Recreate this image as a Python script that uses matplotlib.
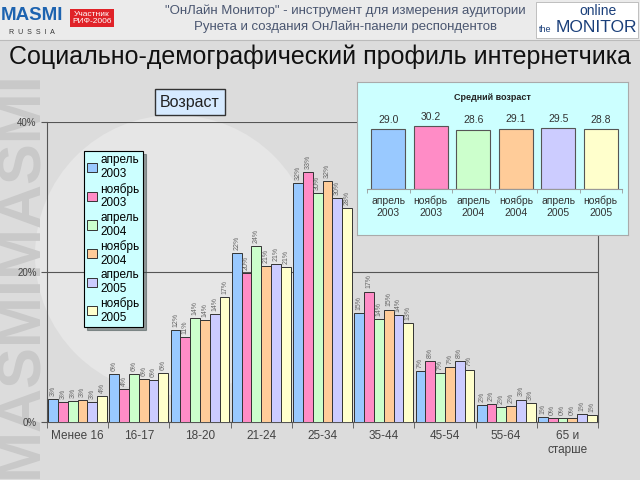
import matplotlib
matplotlib.use("Agg")
import matplotlib.pyplot as plt
from matplotlib.patches import Rectangle, Circle
import numpy as np

plt.rcParams['font.family'] = ['Liberation Sans', 'DejaVu Sans']

# data
groups = ['Менее 16', '16-17', '18-20', '21-24', '25-34', '35-44', '45-54', '55-64', '65 и\nстарше']
waves = ['апрель\n2003', 'ноябрь\n2003', 'апрель\n2004', 'ноябрь\n2004', 'апрель\n2005', 'ноябрь\n2005']
apr03 = [3.1, 6.4, 12.3, 22.5, 31.9, 14.6, 6.8, 2.3, 0.7]
nov03 = [2.7, 4.4, 11.3, 19.9, 33.3, 17.4, 8.1, 2.4, 0.5]
apr04 = [2.8, 6.4, 13.9, 23.5, 30.5, 13.8, 6.6, 2.0, 0.5]
nov04 = [2.9, 5.7, 13.6, 20.8, 32.1, 15.0, 7.3, 2.1, 0.5]
apr05 = [2.7, 5.6, 14.4, 21.1, 29.9, 14.3, 8.1, 3.0, 1.1]
nov05 = [3.5, 6.5, 16.7, 20.7, 28.5, 13.2, 7.0, 2.6, 1.0]
mean_age = [29.0, 30.2, 28.6, 29.1, 29.5, 28.8]

colors = ['#99c9ff', '#ff8cc6', '#ccffcc', '#ffcc99', '#ccccff', '#ffffcc']
series = [apr03, nov03, apr04, nov04, apr05, nov05]

W, H = 640, 480
def box(x0, y0, x1, y1):
    # pixel box (top-left origin) -> figure fraction rect
    return [x0 / W, 1 - y1 / H, (x1 - x0) / W, (y1 - y0) / H]

fig = plt.figure(figsize=(6.4, 4.8), dpi=100)
fig.patch.set_facecolor('#dcdcdc')

# background layer in pixel coords
bg = fig.add_axes([0, 0, 1, 1], zorder=-10)
bg.set_xlim(0, W)
bg.set_ylim(H, 0)
bg.axis('off')
bg.add_patch(Rectangle((0, 0), W, 40, facecolor='#ebebeb', edgecolor='none'))
bg.plot([0, W], [40, 40], color='#bbbbbb', lw=0.8)
bg.add_patch(Circle((175, 255), 140, facecolor='#e6e6e6', edgecolor='none'))
bg.text(22, 478, 'MASMIMASMI', rotation=90, fontsize=44, fontweight='bold',
        color='#c9c9c9', ha='center', va='bottom', clip_on=True)

# header
bg.text(32, 15, 'MASMI', fontsize=13.5, fontweight='bold', color='#1d63b0', ha='center', va='center')
bg.text(32, 33, 'R  U  S  S  I  A', fontsize=5, color='#333333', ha='center', va='center')
bg.text(92, 18, 'Участник\nРИФ-2006', fontsize=6, color='white', ha='center', va='center',
        linespacing=0.9, bbox=dict(boxstyle='square,pad=0.3', facecolor='#e02228', edgecolor='none'))
bg.text(345, 11, '"ОнЛайн Монитор" - инструмент для измерения аудитории',
        fontsize=9.5, color='#4a5670', ha='center', va='center')
bg.text(345, 27, 'Рунета и создания ОнЛайн-панели респондентов',
        fontsize=9.5, color='#4a5670', ha='center', va='center')
bg.add_patch(Rectangle((536, 2), 102, 36, facecolor='white', edgecolor='#aaaaaa', lw=0.5))
bg.text(598, 11, 'online', fontsize=10, color='#1a3f7a', ha='center', va='center')
bg.text(545, 29, 'the', fontsize=6.5, color='#1a3f7a', ha='center', va='center')
bg.text(596, 27, 'MONITOR', fontsize=12.5, color='#1a3f7a', ha='center', va='center')

bg.text(320, 57, 'Социально-демографический профиль интернетчика',
        fontsize=18, color='#111111', ha='center', va='center')

# main chart
ax = fig.add_axes(box(47, 122, 598, 422), zorder=1)
ax.set_facecolor('none')
x = np.arange(len(groups))
bw = 0.16
for i, (vals, c, lab) in enumerate(zip(series, colors, waves)):
    pos = x + (i - 2.5) * bw
    ax.bar(pos, vals, bw, color=c, edgecolor='#333333', linewidth=0.7, label=lab, zorder=3)
    for p, v in zip(pos, vals):
        ax.text(p, v + 0.4, f'{v:.0f}%', rotation=90, fontsize=5, color='#666666',
                ha='center', va='bottom', zorder=4)

ax.set_xlim(-0.5, len(groups) - 0.5)
ax.set_ylim(0, 40)
ax.set_yticks([0, 20, 40])
ax.set_yticklabels(['0%', '20%', '40%'], fontsize=7, color='#444444')
ax.yaxis.grid(True, color='#555555', lw=0.8)
ax.set_axisbelow(True)
ax.set_xticks(x)
ax.set_xticklabels(groups, fontsize=8.5, color='#444444')
ax.tick_params(axis='x', length=0, pad=6)
ax.set_xticks(np.arange(-0.5, len(groups), 1), minor=True)
ax.tick_params(axis='x', which='minor', length=4, color='#555555')
ax.tick_params(axis='y', length=4, color='#555555')
ax.spines['top'].set_visible(False)
for s in ['left', 'bottom', 'right']:
    ax.spines[s].set_color('#555555')
    ax.spines[s].set_linewidth(0.8)

leg = ax.legend(loc='upper left', bbox_to_anchor=(78 / W, 1 - 145 / H),
                bbox_transform=fig.transFigure, fontsize=8.5, frameon=True,
                facecolor='#ccffff', edgecolor='black', fancybox=False, shadow=True,
                handlelength=0.8, handleheight=0.8, handletextpad=0.3,
                labelspacing=0.2, borderpad=0.3, framealpha=1)
leg.get_frame().set_linewidth(0.8)

bg.text(190, 102, 'Возраст', fontsize=11.5, color='#222222', ha='center', va='center',
        bbox=dict(boxstyle='square,pad=0.35', facecolor='#d6eaff', edgecolor='#333333', lw=1))

# inset panel: mean age
panel = fig.add_axes(box(357, 82, 628, 235), zorder=5)
panel.set_facecolor('#ccffff')
panel.set_xticks([])
panel.set_yticks([])
for s in panel.spines.values():
    s.set_color('#aaaaaa')
panel.text(0.5, 0.9, 'Средний возраст', fontsize=6.5, fontweight='bold', color='#222222',
           ha='center', va='center', transform=panel.transAxes)

ax2 = fig.add_axes(box(367, 109, 622, 189), zorder=6)
ax2.set_facecolor('none')
xi = np.arange(len(mean_age))
ax2.bar(xi, mean_age, 0.8, color=colors, edgecolor='#555555', linewidth=0.8)
for p, v in zip(xi, mean_age):
    ax2.text(p, v + 2, f'{v:.1f}', fontsize=7.5, color='#333333', ha='center', va='bottom')
ax2.set_xlim(-0.5, len(mean_age) - 0.5)
ax2.set_ylim(0, 38.5)
ax2.set_yticks([])
ax2.set_xticks(xi)
ax2.set_xticklabels(waves, fontsize=7.5, color='#333333')
ax2.tick_params(axis='x', length=0, pad=5)
ax2.set_xticks(np.arange(-0.5, len(mean_age), 1), minor=True)
ax2.tick_params(axis='x', which='minor', length=3, color='#999999')
for s in ['top', 'left', 'right']:
    ax2.spines[s].set_visible(False)
ax2.spines['bottom'].set_color('#999999')

fig.savefig('out.png', dpi=100, facecolor=fig.get_facecolor())
